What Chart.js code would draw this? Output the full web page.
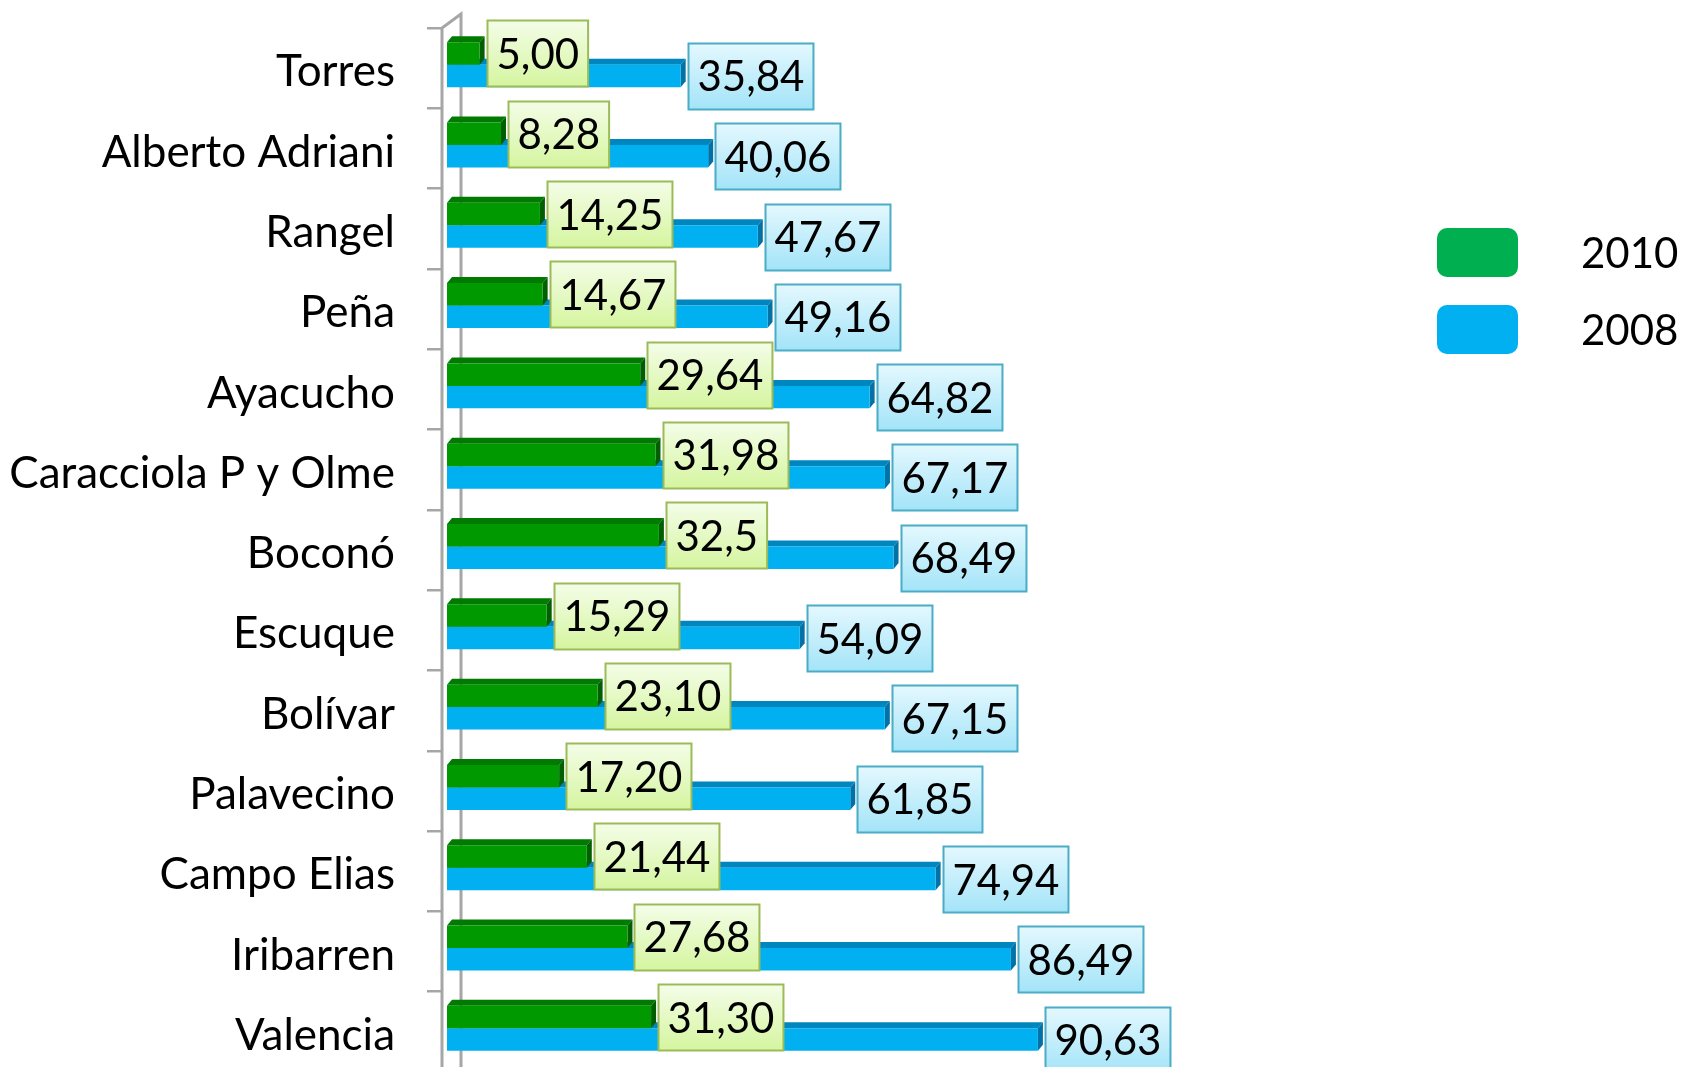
<!DOCTYPE html>
<html>
<head>
<meta charset="utf-8">
<script src="https://cdn.jsdelivr.net/npm/chart.js@4/dist/chart.umd.min.js"></script>
<style>
  html, body { margin: 0; padding: 0; background: #ffffff; overflow: hidden; }
  #wrap { width: 1684px; height: 1072px; }
</style>
</head>
<body>
<div id="wrap"><canvas id="c" width="1684" height="1072"></canvas></div>
<script>
const categories = ['Torres', 'Alberto Adriani', 'Rangel', 'Peña', 'Ayacucho', 'Caracciola P y Olme', 'Boconó', 'Escuque', 'Bolívar', 'Palavecino', 'Campo Elias', 'Iribarren', 'Valencia'];
const seriesNames = ['2010', '2008'];
const values2010 = [5.00, 8.28, 14.25, 14.67, 29.64, 31.98, 32.5, 15.29, 23.10, 17.20, 21.44, 27.68, 31.30];
const values2008 = [35.84, 40.06, 47.67, 49.16, 64.82, 67.17, 68.49, 54.09, 67.15, 61.85, 74.94, 86.49, 90.63];
const labels2010 = ['5,00', '8,28', '14,25', '14,67', '29,64', '31,98', '32,5', '15,29', '23,10', '17,20', '21,44', '27,68', '31,30'];
const labels2008 = ['35,84', '40,06', '47,67', '49,16', '64,82', '67,17', '68,49', '54,09', '67,15', '61,85', '74,94', '86,49', '90,63'];

const FONT = 'Lato, "Open Sans", sans-serif';
const DX = 5, DY = 6, SHIFT = -3.5;

const styles = [
  { front: '#009900', top: '#007a00', side: '#005f00', legend: '#00b050',
    lblTop: '#f4fde8', lblBot: '#d5f59f', lblBorder: '#9bbb59', labels: labels2010 },
  { front: '#00b0f0', top: '#0086bf', side: '#0072a6', legend: '#00b0f0',
    lblTop: '#e4f8fe', lblBot: '#a3e4f8', lblBorder: '#4bacc6', labels: labels2008 }
];

const plugin3d = {
  id: 'bars3d',
  beforeDatasetsDraw(chart) {
    const ctx = chart.ctx, a = chart.chartArea;
    ctx.save();
    ctx.fillStyle = '#ffffff';
    ctx.fillRect(a.left - 4, a.top - 2, 4, chart.height);
    ctx.strokeStyle = '#a6a6a6';
    ctx.lineWidth = 3;
    ctx.beginPath();
    ctx.moveTo(a.left - 5, chart.height + 5);
    ctx.lineTo(a.left - 5, a.top);
    ctx.lineTo(a.left + 14, a.top - 14);
    ctx.lineTo(a.left + 14, chart.height + 5);
    ctx.stroke();
    ctx.restore();
    ctx.save();
    ctx.translate(0, SHIFT);
  },
  beforeDatasetDraw(chart, args) {
    const ctx = chart.ctx, st = styles[args.index];
    args.meta.data.forEach(el => {
      const p = el.getProps(['x', 'y', 'base', 'height'], true);
      const t = p.y - p.height / 2, b = p.y + p.height / 2;
      ctx.fillStyle = st.top;
      ctx.beginPath();
      ctx.moveTo(p.base, t);
      ctx.lineTo(p.base + DX, t - DY);
      ctx.lineTo(p.x + DX, t - DY);
      ctx.lineTo(p.x, t);
      ctx.closePath();
      ctx.fill();
      ctx.fillStyle = st.side;
      ctx.beginPath();
      ctx.moveTo(p.x, t);
      ctx.lineTo(p.x + DX, t - DY);
      ctx.lineTo(p.x + DX, b - DY);
      ctx.lineTo(p.x, b);
      ctx.closePath();
      ctx.fill();
    });
  },
  afterDatasetsDraw(chart) {
    const ctx = chart.ctx;
    ctx.restore();
    ctx.save();
    ctx.font = '42px ' + FONT;
    ctx.textBaseline = 'middle';
    ctx.textAlign = 'left';
    for (let di = chart.data.datasets.length - 1; di >= 0; di--) {
      const st = styles[di];
      chart.getDatasetMeta(di).data.forEach((el, i) => {
        const p = el.getProps(['x', 'y'], true);
        const txt = st.labels[i];
        const w = ctx.measureText(txt).width + 18;
        const h = 66;
        const x0 = Math.round(p.x + DX + 2) + 0.5;
        const cy = p.y + SHIFT;
        const y0 = Math.round(cy - h / 2) + 0.5;
        const g = ctx.createLinearGradient(0, y0, 0, y0 + h);
        g.addColorStop(0, st.lblTop);
        g.addColorStop(1, st.lblBot);
        ctx.fillStyle = g;
        ctx.fillRect(x0, y0, w, h);
        ctx.strokeStyle = st.lblBorder;
        ctx.lineWidth = 2;
        ctx.strokeRect(x0, y0, w, h);
        ctx.fillStyle = '#000000';
        ctx.fillText(txt, x0 + 9, cy + 2);
      });
    }
    ctx.restore();
  },
  afterDraw(chart) {
    const ctx = chart.ctx;
    ctx.save();
    ctx.font = '42px ' + FONT;
    ctx.textBaseline = 'middle';
    ctx.textAlign = 'left';
    chart.data.datasets.forEach((ds, i) => {
      const bx = 1437, by = 228 + i * 77, bw = 81, bh = 49;
      ctx.fillStyle = styles[i].legend;
      ctx.beginPath();
      ctx.roundRect(bx, by, bw, bh, 10);
      ctx.fill();
      ctx.fillStyle = '#000000';
      ctx.fillText(ds.label, 1581, by + bh / 2 + 2);
    });
    ctx.restore();
  }
};

new Chart(document.getElementById('c'), {
  type: 'bar',
  data: {
    labels: categories,
    datasets: [
      { label: seriesNames[0], data: values2010, backgroundColor: styles[0].front, borderWidth: 0,
        categoryPercentage: 0.56, barPercentage: 1.0 },
      { label: seriesNames[1], data: values2008, backgroundColor: styles[1].front, borderWidth: 0,
        categoryPercentage: 0.56, barPercentage: 1.0 }
    ]
  },
  options: {
    indexAxis: 'y',
    responsive: false,
    devicePixelRatio: 1,
    animation: false,
    layout: { padding: { top: 28, right: 259, bottom: 0, left: 0 } },
    plugins: { legend: { display: false }, tooltip: { enabled: false } },
    scales: {
      x: { display: false, min: 0, max: 150 },
      y: {
        offset: true,
        afterFit(scale) { scale.width = 447; scale.paddingTop = 0; scale.paddingBottom = 0; },
        border: { display: false },
        grid: { display: true, drawOnChartArea: false, drawTicks: true, tickLength: 20,
                color: '#a6a6a6', lineWidth: 2.5 },
        ticks: { color: '#000000', padding: 32, labelOffset: 4, font: { family: FONT, size: 44 } }
      }
    }
  },
  plugins: [plugin3d]
});
</script>
</body>
</html>
